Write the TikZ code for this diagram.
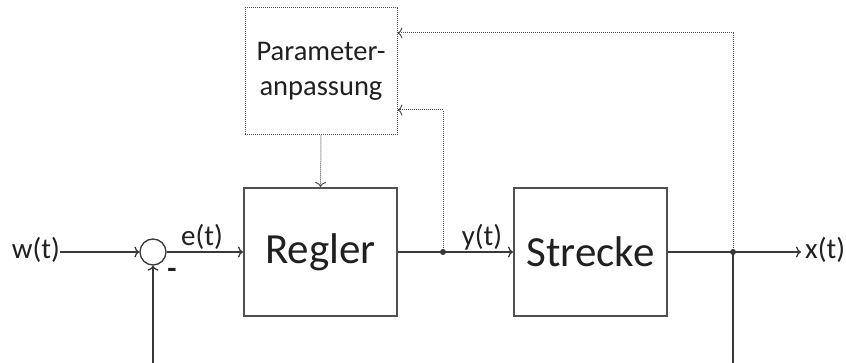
\documentclass[tikz,border=0pt]{standalone}
\usepackage{fontspec}
\setmainfont{Carlito}
\usetikzlibrary{arrows.meta}
\definecolor{lc}{HTML}{383838}
\definecolor{bc}{HTML}{505050}
\definecolor{tc}{HTML}{202020}
\definecolor{dc}{HTML}{505050}
\begin{document}
\begin{tikzpicture}[x=1pt,y=-1pt,
  lbl/.style={text=tc, font=\fontsize{29}{34}\selectfont, inner sep=0pt},
  blk/.style={draw=bc, line width=2pt, minimum width=153pt, minimum height=128pt, inner sep=0pt, text=tc, font=\fontsize{43}{48}\selectfont},
  pblk/.style={draw=dc, line width=1pt, dash pattern=on 1pt off 1pt, minimum width=152pt, minimum height=127pt, inner sep=0pt, text=tc, align=center, font=\fontsize{28.5}{35}\selectfont},
  sig/.style={draw=lc, line width=1.3pt},
  arr/.style={sig, -{To[length=5pt,width=11pt]}},
  darr/.style={draw=dc, line width=1pt, dash pattern=on 1pt off 1pt, -{To[length=5pt,width=11pt]}},
  jdot/.style={fill=lc}]
\useasboundingbox (0,0) rectangle (846,363);

\node[pblk] (param) at (321,71.5) {Parameter-\\anpassung};
\node[blk] (regler) at (320.5,252) {Regler};
\node[blk] (strecke) at (590.5,252) {Strecke};
\node[circle, draw=lc, fill=white, line width=1.3pt, minimum size=26pt, inner sep=0pt] (sum) at (153,252) {};

\node[lbl, anchor=east] (w) at (60,250) {w(t)};
\node[lbl] (e) at (202,237) {e(t)};
\node[lbl] (y) at (482,237) {y(t)};
\node[lbl, anchor=west] (x) at (805,250) {x(t)};
\node[text=tc, font=\bfseries\fontsize{30}{34}\selectfont, inner sep=0pt] (minus) at (172,273) {-};

\coordinate (j1) at (443,252);
\coordinate (j2) at (733,252);
\coordinate (fb1) at (153,363);
\coordinate (fb2) at (733,363);
\coordinate (xend) at (801,252);

\draw[arr] (w.east |- 0,252) -- (sum.west);
\draw[arr] (sum.east) -- (regler.west);
\draw[sig] (regler.east) -- (j1);
\draw[arr] (j1) -- (strecke.west);
\draw[sig] (strecke.east) -- (j2);
\draw[arr] (j2) -- (xend);
\draw[sig] (j2) -- (fb2);
\draw[arr] (fb1) -- (sum.south);

\draw[darr] (param.south) -- (regler.north);
\draw[darr] (j1) -- (443,110) -- (param.east |- 0,110);
\draw[darr] (j2) -- (733,33) -- (param.east |- 0,33);

\fill[jdot] (j1) circle (3);
\fill[jdot] (j2) circle (3);
\end{tikzpicture}
\end{document}
